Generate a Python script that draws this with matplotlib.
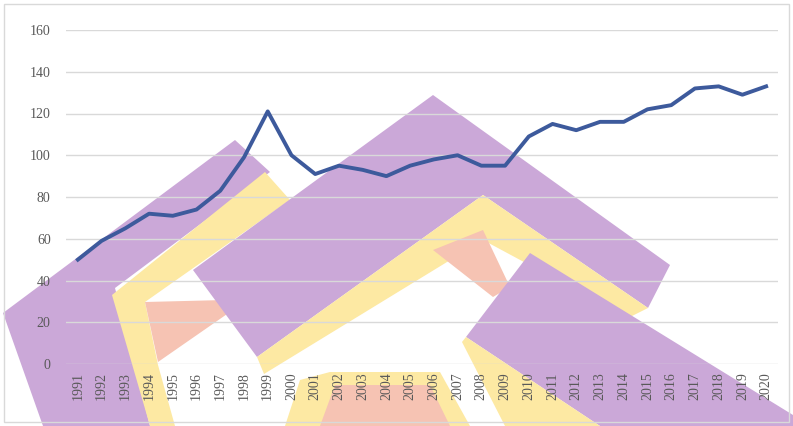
import matplotlib
matplotlib.use("Agg")
import matplotlib.pyplot as plt
from matplotlib.patches import Polygon

# 데이터
years = [str(y) for y in range(1991, 2021)]
values = [50, 59, 65, 72, 71, 74, 83, 99, 121, 100,
          91, 95, 93, 90, 95, 98, 100, 95, 95, 109,
          115, 112, 116, 116, 122, 124, 132, 133, 129, 133]
yticks = [0, 20, 40, 60, 80, 100, 120, 140, 160]

W, H = 793, 426
fig = plt.figure(figsize=(W / 100, H / 100), dpi=100)
ax = fig.add_axes([66 / W, 1 - 364 / H, (778 - 66) / W, (364 - 30) / H])
ax.set_facecolor("none")
ax.set_zorder(2)

# 배경 워터마크 (대략적인 모양, 픽셀 좌표)
def px(pts):
    return [(x / W, 1 - y / H) for x, y in pts]

purple = "#cba8d8"
yellow = "#fde9a3"
pink = "#f6c3b3"
shapes = [
    ([(3, 313), (235, 140), (270, 172), (115, 288), (150, 426), (43, 426)], purple),
    ([(112, 295), (265, 172), (290, 200), (145, 302), (158, 365), (175, 426), (150, 426)], yellow),
    ([(145, 302), (225, 300), (230, 312), (158, 362)], pink),
    ([(193, 270), (433, 95), (670, 265), (648, 308), (483, 195), (257, 357)], purple),
    ([(257, 357), (483, 195), (648, 308), (628, 318), (483, 240), (264, 374)], yellow),
    ([(433, 250), (483, 230), (510, 287), (493, 297)], pink),
    ([(466, 337), (530, 253), (793, 415), (793, 426), (600, 426)], purple),
    ([(462, 342), (466, 337), (600, 426), (505, 426)], yellow),
    ([(285, 426), (300, 380), (330, 372), (440, 372), (470, 426)], yellow),
    ([(320, 426), (335, 385), (430, 385), (450, 426)], pink),
]
for pts, col in shapes:
    fig.patches.append(Polygon(px(pts), closed=True, transform=fig.transFigure,
                               facecolor=col, edgecolor="none", zorder=-1))

# 외곽 테두리
fig.patches.append(Polygon(px([(4, 4), (789, 4), (789, 422), (4, 422)]), closed=True,
                           transform=fig.transFigure, fill=False,
                           edgecolor="#d9d9d9", linewidth=1, zorder=-1))

x = list(range(len(years)))
ax.plot(x, values, color="#3d5a9c", linewidth=2.8, zorder=3)

ax.set_xlim(-0.5, len(years) - 0.5)
ax.set_ylim(0, 160)
ax.set_yticks(yticks)
ax.set_xticks(x)
ax.set_xticklabels(years, rotation=90)
ax.grid(axis="y", color="#d9d9d9", linewidth=1)
ax.set_axisbelow(True)
for s in ax.spines.values():
    s.set_visible(False)
ax.tick_params(length=0, labelsize=10, colors="#595959", labelfontfamily="Liberation Serif")
ax.tick_params(axis="y", pad=11)
ax.tick_params(axis="x", pad=6)

fig.savefig("out.png", dpi=100)
